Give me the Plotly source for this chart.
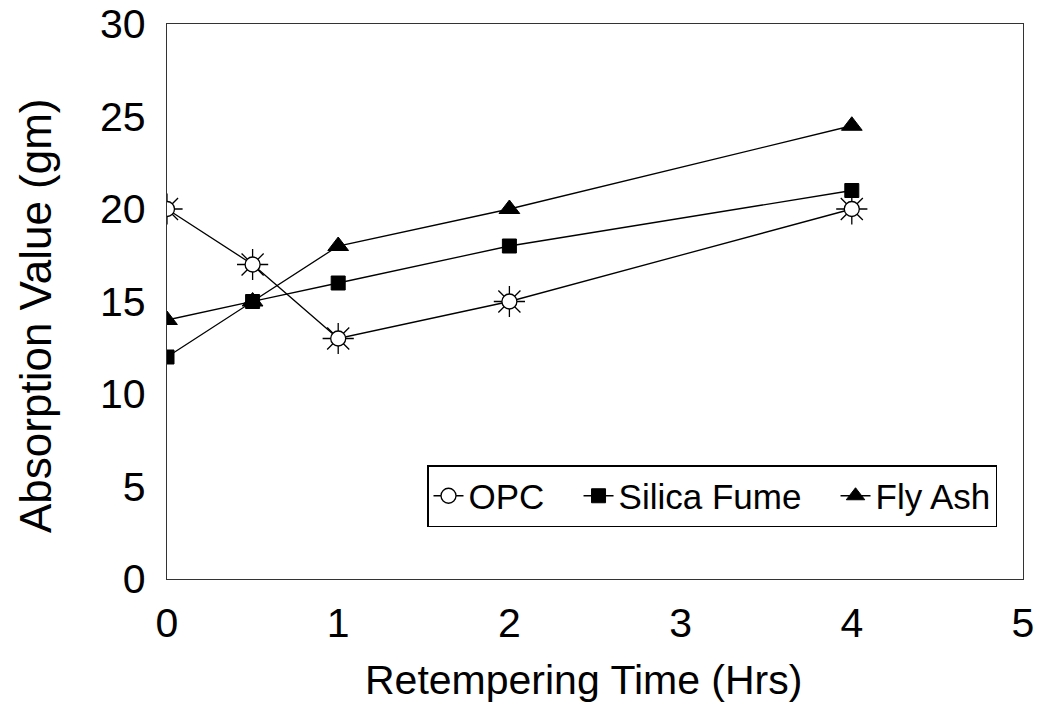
import plotly.graph_objects as go

x_hrs = [0, 0.5, 1, 2, 4]
opc = [20, 17, 13, 15, 20]
silica_fume = [12, 15, 16, 18, 21]
fly_ash = [14, 15, 18, 20, 24.5]

x_ticks = [0, 1, 2, 3, 4, 5]
y_ticks = [0, 5, 10, 15, 20, 25, 30]

NB = "\u00a0\u00a0\u00a0"
FONT = "Liberation Sans, Arial, sans-serif"

fig = go.Figure()

# rays of the sun-shaped OPC marker
fig.add_trace(go.Scatter(
    x=x_hrs, y=opc, mode="markers", showlegend=False, hoverinfo="skip",
    marker=dict(symbol="asterisk-open", size=26, color="black",
                line=dict(color="black", width=1.3)),
))
fig.add_trace(go.Scatter(
    x=x_hrs, y=opc, mode="lines+markers", name="OPC" + NB,
    line=dict(color="black", width=1.3),
    marker=dict(symbol="circle", size=15, color="white",
                line=dict(color="black", width=1.3)),
))
fig.add_trace(go.Scatter(
    x=x_hrs, y=silica_fume, mode="lines+markers", name="Silica Fume" + NB,
    line=dict(color="black", width=1.3),
    marker=dict(symbol="square", size=14, color="black",
                line=dict(color="black", width=1)),
))
fig.add_trace(go.Scatter(
    x=x_hrs, y=fly_ash, mode="lines+markers", name="Fly Ash",
    line=dict(color="black", width=1.3),
    marker=dict(symbol="triangle-up", size=18, color="black",
                line=dict(color="black", width=1)),
))

L, R, T, B = 167, 21, 24, 134
W, H = 1044, 713
pw, ph = W - L - R, H - T - B

fig.update_layout(
    width=W, height=H,
    margin=dict(l=L, r=R, t=T, b=B),
    paper_bgcolor="white", plot_bgcolor="white",
    font=dict(family=FONT, color="black", size=41),
    legend=dict(
        orientation="h", x=(997 - L) / pw, xanchor="right",
        y=(H - B - 527) / ph, yanchor="bottom",
        bordercolor="black", borderwidth=1.5, bgcolor="white",
        font=dict(size=35, family=FONT), itemwidth=30,
    ),
    xaxis=dict(
        range=[0, 5], tickvals=x_ticks, ticks="", showgrid=False, zeroline=False,
        showline=True, linecolor="#333333", linewidth=1.3, mirror=True,
        tickfont=dict(size=41), ticklabelstandoff=8, automargin=False,
    ),
    yaxis=dict(
        range=[0, 30], tickvals=y_ticks, ticks="", showgrid=False, zeroline=False,
        showline=True, linecolor="#333333", linewidth=1.3, mirror=True,
        tickfont=dict(size=41), ticklabelstandoff=12, automargin=False,
    ),
    annotations=[
        dict(text="Retempering Time (Hrs)", xref="paper", yref="paper",
             x=(583 - L) / pw, y=(H - B - 680) / ph, showarrow=False,
             xanchor="center", yanchor="middle", font=dict(size=41)),
        dict(text="Absorption Value (gm)", xref="paper", yref="paper",
             x=(35 - L) / pw, y=(H - B - 316) / ph, showarrow=False,
             textangle=-90, xanchor="center", yanchor="middle",
             font=dict(size=44)),
    ],
)

fig.write_html("out.html")
